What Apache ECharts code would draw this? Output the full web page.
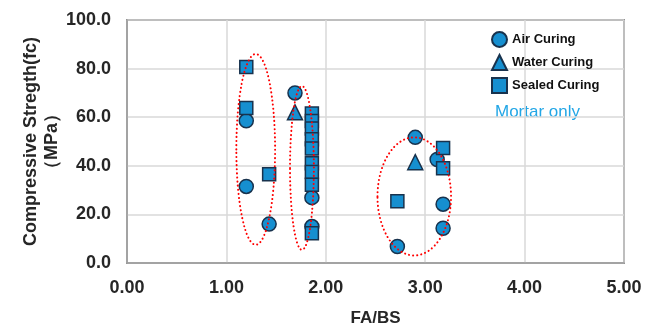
<!DOCTYPE html>
<html><head><meta charset="utf-8">
<script src="https://cdn.jsdelivr.net/npm/echarts@6/dist/echarts.min.js"></script>
<style>html,body{margin:0;padding:0;background:#fff}#c{width:659px;height:332px}</style>
</head><body><div id="c"></div>
<script>
// FA/BS vs compressive strength (MPa)
const airCuring = [
  [1.20, 58.5], [1.20, 31.5], [1.43, 16.0], [1.69, 70.0], [1.86, 26.9], [1.86, 15.0],
  [2.90, 51.7], [2.72, 6.8], [3.12, 42.6], [3.18, 24.2], [3.18, 14.3]
];
const waterCuring = [
  [1.69, 62.0], [2.90, 41.5]
];
const sealedCuring = [
  [1.20, 80.7], [1.20, 63.8], [1.43, 36.5],
  [1.86, 61.5], [1.86, 58.4], [1.86, 55.4], [1.86, 50.9], [1.86, 47.1], [1.86, 41.0], [1.86, 37.4], [1.86, 32.2], [1.86, 12.2],
  [2.72, 25.4], [3.18, 47.3], [3.18, 39.0]
];
// highlight ellipses: [centerX, centerY, radiusX, radiusY] in data units
const groupEllipses = [
  [1.295, 46.75, 0.195, 39.25],
  [1.76, 39.1, 0.12, 33.7],
  [2.89, 27.4, 0.37, 24.3]
];
const xTicks = [0, 1, 2, 3, 4, 5];
const yTicks = [0, 20, 40, 60, 80, 100];
const seriesNames = ['Air Curing', 'Water Curing', 'Sealed Curing'];
const noteText = 'Mortar only';

const fill = '#168fd0', edge = '#18324d';
const txt = '#262626';
const font = '"Liberation Sans", Arial, sans-serif';
const markerStyle = { color: fill, borderColor: edge, borderWidth: 1.5, opacity: 1 };

const chart = echarts.init(document.getElementById('c'));
chart.setOption({
  animation: false,
  backgroundColor: '#fff',
  grid: { left: 127, right: 35, top: 20, bottom: 67, show: true, borderColor: '#404040', borderWidth: 1.5 },
  xAxis: {
    type: 'value', min: xTicks[0], max: xTicks[xTicks.length - 1], interval: 1,
    name: 'FA/BS', nameLocation: 'middle', nameGap: 47, nameMoveOverlap: false,
    nameTextStyle: { fontFamily: font, fontSize: 17, fontWeight: 'bold', color: txt },
    axisLine: { show: true, lineStyle: { color: '#9a9a9a', width: 1.5 } },
    axisTick: { show: false },
    axisLabel: { formatter: v => v.toFixed(2), fontFamily: font, fontSize: 18, fontWeight: 'bold', color: txt, margin: 16 },
    splitLine: { show: true, lineStyle: { color: '#d9d9d9', width: 1.5 } }
  },
  yAxis: {
    type: 'value', min: yTicks[0], max: yTicks[yTicks.length - 1], interval: 20,
    name: 'Compressive Stregth(fc)\n（MPa）', nameLocation: 'middle', nameGap: 64, nameRotate: 90, nameMoveOverlap: false,
    nameTextStyle: { fontFamily: font, fontSize: 18, fontWeight: 'bold', color: txt, lineHeight: 21 },
    axisLine: { show: true, lineStyle: { color: '#9a9a9a', width: 1.5 } },
    axisTick: { show: false },
    axisLabel: { formatter: v => v.toFixed(1), fontFamily: font, fontSize: 18, fontWeight: 'bold', color: txt, margin: 16 },
    splitLine: { show: true, lineStyle: { color: '#d9d9d9', width: 1.5 } }
  },
  legend: {
    orient: 'vertical', left: 486, top: 26, itemWidth: 15, itemHeight: 15, itemGap: 6,
    textStyle: { fontFamily: font, fontSize: 13, fontWeight: 'bold', color: '#111' },
    data: [
      { name: seriesNames[0], icon: 'circle' },
      { name: seriesNames[1], icon: 'triangle' },
      { name: seriesNames[2], icon: 'rect' }
    ]
  },
  graphic: [{
    type: 'text', left: 495, top: 104,
    style: { text: noteText, fontFamily: font, fontSize: 17, fill: '#22a6e6' }
  }],
  series: [
    {
      type: 'custom', name: 'groups', silent: true, z: 5,
      data: groupEllipses,
      renderItem: function (params, api) {
        const c = api.coord([api.value(0), api.value(1)]);
        const s = api.size([api.value(2), api.value(3)]);
        return {
          type: 'ellipse',
          shape: { cx: c[0], cy: c[1], rx: s[0], ry: s[1] },
          style: { fill: null, stroke: '#ff0000', lineWidth: 2, lineDash: [0.1, 4], lineCap: 'round' }
        };
      }
    },
    { name: seriesNames[0], type: 'scatter', symbol: 'circle', symbolSize: 14, data: airCuring, itemStyle: markerStyle, z: 3 },
    { name: seriesNames[1], type: 'scatter', symbol: 'triangle', symbolSize: 15, data: waterCuring, itemStyle: markerStyle, z: 3 },
    { name: seriesNames[2], type: 'scatter', symbol: 'rect', symbolSize: 13, data: sealedCuring, itemStyle: markerStyle, z: 4 }
  ]
});
</script>
</body></html>
